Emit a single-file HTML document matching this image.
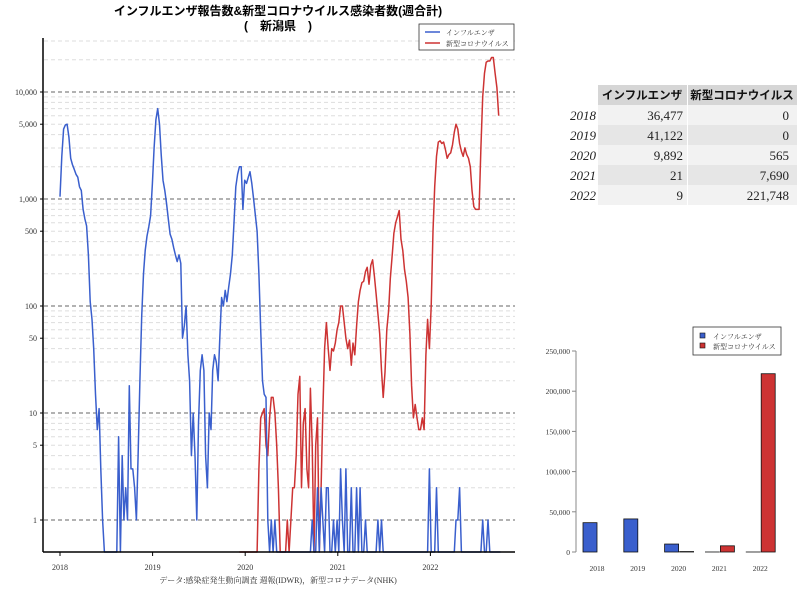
<!DOCTYPE html>
<html><head><meta charset="utf-8">
<style>
body{margin:0;background:#fff;}
svg text{font-family:"Liberation Serif","Noto Serif CJK SC","Noto Sans CJK JP",serif;}
svg text.sans{font-family:"Liberation Sans","Noto Sans CJK JP",sans-serif;}
</style></head>
<body>
<svg id="svg" width="800" height="600" xmlns="http://www.w3.org/2000/svg">
<rect width="800" height="600" fill="#fff"/>
<text class="sans" x="278" y="15" text-anchor="middle" font-size="12" font-weight="bold">インフルエンザ報告数&amp;新型コロナウイルス感染者数(週合計)</text>
<text class="sans" x="278" y="30" text-anchor="middle" font-size="12" font-weight="bold">(　新潟県　)</text>
<g id="grid"></g>
<g id="ylab"></g>
<g id="series"></g>
<line x1="43" y1="38" x2="43" y2="552" stroke="#000" stroke-width="1.5"/>
<line x1="43" y1="552" x2="515" y2="552" stroke="#000" stroke-width="1.5"/>
<g id="xlab"></g>
<text x="278" y="583" text-anchor="middle" font-size="8" fill="#333">データ:感染症発生動向調査 週報(IDWR)，新型コロナデータ(NHK)</text>
<g>
<rect x="419" y="24" width="95" height="26" fill="#fff" stroke="#333" stroke-width="0.8"/>
<line x1="425" y1="32" x2="440" y2="32" stroke="#3a5fcd" stroke-width="1.5"/>
<text x="446" y="35" font-size="7" fill="#333">インフルエンザ</text>
<line x1="425" y1="43" x2="440" y2="43" stroke="#cd3333" stroke-width="1.5"/>
<text x="446" y="46" font-size="7" fill="#333">新型コロナウイルス</text>
</g>
<g id="table"></g>
<g id="bars"></g>
</svg>
<script>
const fluWeekly=[1050,2500,4500,4900,5000,3800,2400,2100,1900,1700,1600,1300,1200,800,650,560,300,110,75,40,15,7,11,3,1,0,0,0,0,0,0,0,0,6,0,4,1,2,1,18,3,3,2,1,4,20,80,200,330,450,550,700,1400,3000,5500,7000,5000,2600,1500,1200,900,650,470,420,350,300,260,300,250,50,65,100,35,20,4,10,4,1,8,25,35,25,4,2,10,7,25,35,30,20,50,120,100,140,110,150,200,300,600,1300,1700,2000,2000,800,1500,1400,1600,1800,1400,1000,700,500,200,60,20,15,14,1,0,1,0,1,0,0,0,0,0,0,0,0,0,0,0,0,0,0,0,0,0,0,0,0,1,0,0,2,0,2,1,0,2,2,0,0,1,0,1,0,3,1,0,3,0,0,2,0,0,2,0,2,0,0,1,0,0,0,0,0,0,1,0,1,0,0,0,0,0,0,0,0,0,0,0,0,0,0,0,0,0,0,0,0,0,0,0,0,0,0,3,0,0,0,2,0,0,0,0,0,0,0,0,0,0,1,1,2,0,0,0,0,0,0,0,0,0,0,0,0,1,0,0,1,0,0,0,0,0,0,0];
const covidWeekly=[0,0,0,0,0,0,0,0,0,0,0,3,9,10,11,5,4,9,14,14,10,5,2,0,0,0,0,1,0,1,2,2,4,15,22,2,8,11,3,2,17,5,0,5,9,0,2,10,40,70,40,25,40,38,45,60,70,100,100,70,50,40,48,28,45,35,65,110,140,165,170,210,230,160,240,270,190,130,85,55,25,14,24,60,90,180,290,480,600,680,780,420,330,220,170,120,55,18,9,12,9,7,7,9,7,35,75,40,100,500,1300,2500,3400,3500,3300,3400,2900,2400,2600,2700,3200,4200,5000,4500,3300,2800,2500,3000,2600,2400,2000,1200,850,800,800,800,3000,9000,15000,19000,19500,19500,21000,21000,15000,11000,6000];
const covidStartWeek=101;
const yTicks=[10000,5000,1000,500,100,50,10,5,1];
const yTickLabels=["10,000","5,000","1,000","500","100","50","10","5","1"];
const xYears=["2018","2019","2020","2021","2022"];
const tableYears=["2018","2019","2020","2021","2022"];
const fluAnnual=[36477,41122,9892,21,9];
const covidAnnual=[0,0,565,7690,221748];
const barTicks=[0,50000,100000,150000,200000,250000];
const barTickLabels=["0","50,000","100,000","150,000","200,000","250,000"];

const NS="http://www.w3.org/2000/svg";
function mk(tag,attrs,parent,txt){const e=document.createElementNS(NS,tag);for(const k in attrs)e.setAttribute(k,attrs[k]);if(txt!==undefined)e.textContent=txt;parent.appendChild(e);return e;}
function yLog(v){return v<=0?552:92+(4-Math.log10(v))*107;}
function xWeek(i){return 60+i*1.776;}
function xYear(k){return 60+k*92.6;}
const grid=document.getElementById('grid');
for(let d=0;d<=4;d++){for(let m=1;m<=9;m++){const v=m*Math.pow(10,d);const y=yLog(v);if(y<38)continue;
 const l=mk('line',{x1:44,x2:515,y1:y,y2:y,stroke:m===1?'#666':'#ddd','stroke-width':1,'stroke-dasharray':'4,3'},grid);
 
 }}
const ylab=document.getElementById('ylab');
yTicks.forEach((v,k)=>{const t=mk('text',{x:37,y:yLog(v)+3,'text-anchor':'end','font-size':8,fill:'#333'},ylab,yTickLabels[k]);
 
 
 mk('line',{x1:40,x2:43,y1:yLog(v),y2:yLog(v),stroke:'#000'},ylab);});
const xlab=document.getElementById('xlab');
xYears.forEach((s,k)=>{const x=xYear(k);mk('line',{x1:x,x2:x,y1:552,y2:556,stroke:'#000'},xlab);
 const t=mk('text',{x:x,y:570,'text-anchor':'middle','font-size':8,fill:'#333'},xlab,s);
 
 });
const series=document.getElementById('series');
function line(arr,off,color,name){const pts=arr.map((v,i)=>xWeek(i+off).toFixed(1)+','+yLog(v).toFixed(1)).join(' ');
 const p=mk('polyline',{points:pts,fill:'none',stroke:color,'stroke-width':1.5,'stroke-linejoin':'round'},series);
 
 }
line(covidWeekly,covidStartWeek,'#cd3333','covid-line');
line(fluWeekly,0,'#3a5fcd','flu-line');

// table
const tb=document.getElementById('table');
mk('rect',{x:598,y:85,width:89,height:20,fill:'#d6d6d6'},tb);
mk('rect',{x:688,y:85,width:109,height:20,fill:'#d6d6d6'},tb);
const h1=mk('text',{class:'sans',x:642,y:99,'text-anchor':'middle','font-size':11.5,'font-weight':'bold',fill:'#111'},tb,'インフルエンザ');


const h2=mk('text',{class:'sans',x:742,y:99,'text-anchor':'middle','font-size':11.5,'font-weight':'bold',fill:'#111'},tb,'新型コロナウイルス');


tableYears.forEach((yr,r)=>{const y=105+r*20;const bg=r%2===0?'#f2f2f2':'#e6e6e6';
 mk('rect',{x:598,y:y,width:89,height:20,fill:bg},tb);mk('rect',{x:688,y:y,width:109,height:20,fill:bg},tb);
 const a=mk('text',{x:596,y:y+15,'text-anchor':'end','font-size':13,'font-style':'italic',fill:'#222'},tb,yr);
 
 
 const b=mk('text',{x:683,y:y+15,'text-anchor':'end','font-size':13,fill:'#222'},tb,fluAnnual[r].toLocaleString('en-US'));
 
 
 const c=mk('text',{x:789,y:y+15,'text-anchor':'end','font-size':13,fill:'#222'},tb,covidAnnual[r].toLocaleString('en-US'));
 
 });

// bar chart
const bg=document.getElementById('bars');
function yBar(v){return 552-v/250000*201;}
mk('line',{x1:576,y1:351,x2:576,y2:552,stroke:'#888','stroke-width':1},bg);
barTicks.forEach((v,k)=>{mk('line',{x1:572,x2:576,y1:yBar(v),y2:yBar(v),stroke:'#888'},bg);
 const t=mk('text',{x:570,y:yBar(v)+3,'text-anchor':'end','font-size':7.5,fill:'#333'},bg,barTickLabels[k]);
 
 });
tableYears.forEach((yr,k)=>{const cx=597+k*40.8;
 const r1=mk('rect',{x:cx-14,y:yBar(fluAnnual[k]),width:14,height:552-yBar(fluAnnual[k]),fill:'#3a5fcd',stroke:'#111','stroke-width':0.8},bg);
 
 
 const r2=mk('rect',{x:cx+1,y:yBar(covidAnnual[k]),width:14,height:552-yBar(covidAnnual[k]),fill:'#cd3333',stroke:'#111','stroke-width':0.8},bg);
 
 
 const t=mk('text',{x:cx,y:571,'text-anchor':'middle','font-size':7.5,fill:'#333'},bg,yr);
 
 });
const lg=mk('g',{},bg);


mk('rect',{x:693,y:327,width:88,height:28,fill:'#fff',stroke:'#333','stroke-width':0.8},lg);
mk('rect',{x:700,y:333,width:5,height:5,fill:'#3a5fcd',stroke:'#111','stroke-width':0.6},lg);
mk('text',{x:713,y:339,'font-size':7,fill:'#333'},lg,'インフルエンザ');
mk('rect',{x:700,y:343,width:5,height:5,fill:'#cd3333',stroke:'#111','stroke-width':0.6},lg);
mk('text',{x:713,y:349,'font-size':7,fill:'#333'},lg,'新型コロナウイルス');
</script>
</body></html>
